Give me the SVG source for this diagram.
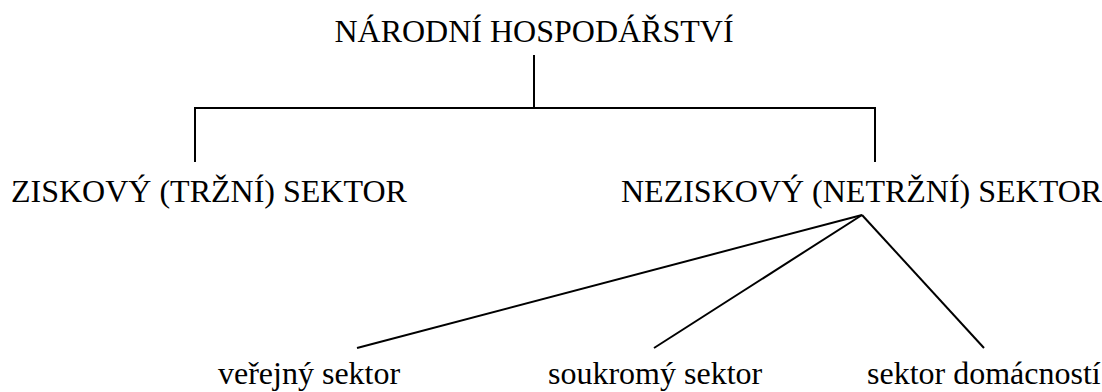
<svg xmlns="http://www.w3.org/2000/svg" width="1102" height="392" viewBox="0 0 1102 392">
<style>
.t{font-size:32px;fill:#000}
.c line{stroke:#000;stroke-width:2;fill:none}
</style>
<rect width="1102" height="392" fill="#fff"/>
<g class="c" id="connectors">
<line x1="534" y1="55" x2="534" y2="108"/>
<line x1="194" y1="108" x2="876" y2="108"/>
<line x1="195" y1="107" x2="195" y2="162"/>
<line x1="875" y1="107" x2="875" y2="162"/>
<line x1="862" y1="215" x2="357" y2="348"/>
<line x1="862" y1="215" x2="654" y2="348"/>
<line x1="862" y1="215" x2="984" y2="348"/>
</g>
<g font-family="Liberation Serif, Times New Roman, DejaVu Serif, serif">
<g id="root"><text class="t" x="534" y="42" text-anchor="middle">NÁRODNÍ HOSPODÁŘSTVÍ</text></g>
<g id="ziskovy"><text class="t" x="11" y="202">ZISKOVÝ (TRŽNÍ) SEKTOR</text></g>
<g id="neziskovy"><text class="t" x="621" y="202">NEZISKOVÝ (NETRŽNÍ) SEKTOR</text></g>
<g id="verejny"><text class="t" x="218" y="384">veřejný sektor</text></g>
<g id="soukromy"><text class="t" x="548" y="384">soukromý sektor</text></g>
<g id="domacnosti"><text class="t" x="867" y="384">sektor domácností</text></g>
</g>
</svg>
